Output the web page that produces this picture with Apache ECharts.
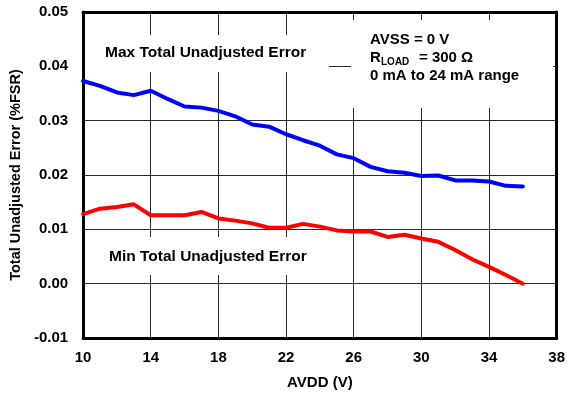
<!DOCTYPE html>
<html>
<head>
<meta charset="utf-8">
<title>Total Unadjusted Error vs AVDD</title>
<script src="https://cdn.jsdelivr.net/npm/echarts@6/dist/echarts.min.js"></script>
<style>
  html, body { margin: 0; padding: 0; background: #ffffff; }
  #chart { width: 568px; height: 396px; }
</style>
</head>
<body>
<div id="chart"></div>
<script>
// Supply voltage sweep (V)
const avdd = [10, 11, 12, 13, 14, 15, 16, 17, 18, 19, 20, 21, 22, 23, 24, 25, 26, 27, 28, 29, 30, 31, 32, 33, 34, 35, 36];

// Maximum total unadjusted error (%FSR)
const maxTue = [0.0373, 0.0364, 0.0352, 0.0347, 0.0355, 0.0340, 0.0326, 0.0324, 0.0318, 0.0308, 0.0293, 0.0289, 0.0275, 0.0264, 0.0254, 0.0238, 0.0231, 0.0215, 0.0207, 0.0204, 0.0198, 0.0199, 0.0190, 0.0190, 0.0188, 0.0180, 0.0179];

// Minimum total unadjusted error (%FSR)
const minTue = [0.0128, 0.0138, 0.0141, 0.0146, 0.0126, 0.0126, 0.0126, 0.0132, 0.0120, 0.0116, 0.0111, 0.0103, 0.0103, 0.0110, 0.0105, 0.0098, 0.0096, 0.0096, 0.0086, 0.0090, 0.0083, 0.0077, 0.0062, 0.0045, 0.0031, 0.0016, 0.0000];

// Axis ranges and tick spacing
const xRange = { min: 10, max: 38, step: 4 };
const yRange = { min: -0.01, max: 0.05, step: 0.01 };

const FONT = '"Liberation Sans", Arial, Helvetica, sans-serif';

const pairs = (xs, ys) => xs.map((x, i) => [x, ys[i]]);

const chart = echarts.init(document.getElementById('chart'), null, { renderer: 'canvas' });

const frameLine = { show: true, onZero: false, lineStyle: { color: '#000', width: 3 } };
const gridLine = { show: true, lineStyle: { color: '#2a2a2a', width: 1 } };

function label(text, x, y, size, align) {
  return {
    type: 'text', z: 11, x: x, y: y,
    style: {
      text: text, fill: '#000',
      font: 'bold ' + size + 'px ' + FONT,
      textAlign: align || 'left', textVerticalAlign: 'middle'
    }
  };
}
function blank(x, y, w, h) {
  return { type: 'rect', z: 10, shape: { x: x, y: y, width: w, height: h }, style: { fill: '#fff' } };
}

chart.setOption({
  animation: false,
  backgroundColor: '#ffffff',
  grid: { left: 80, right: 8, top: 12, bottom: 58, containLabel: false },
  xAxis: [
    {
      type: 'value', min: xRange.min, max: xRange.max, interval: xRange.step,
      position: 'bottom',
      name: 'AVDD (V)', nameLocation: 'middle', nameGap: 37,
      nameTextStyle: { color: '#000', fontFamily: FONT, fontWeight: 'bold', fontSize: 15 },
      axisLine: frameLine, axisTick: { show: false }, splitLine: gridLine,
      axisLabel: { color: '#000', fontFamily: FONT, fontWeight: 'bold', fontSize: 15, margin: 12 }
    },
    {
      type: 'value', min: xRange.min, max: xRange.max, interval: xRange.step,
      position: 'top', axisLine: frameLine, axisTick: { show: false },
      axisLabel: { show: false }, splitLine: { show: false }
    }
  ],
  yAxis: [
    {
      type: 'value', min: yRange.min, max: yRange.max, interval: yRange.step,
      position: 'left',
      name: 'Total Unadjusted Error (%FSR)', nameLocation: 'middle', nameGap: 57,
      nameTextStyle: { color: '#000', fontFamily: FONT, fontWeight: 'bold', fontSize: 14.5 },
      axisLine: frameLine, axisTick: { show: false }, splitLine: gridLine,
      axisLabel: {
        color: '#000', fontFamily: FONT, fontWeight: 'bold', fontSize: 15, margin: 15,
        formatter: v => v.toFixed(2)
      }
    },
    {
      type: 'value', min: yRange.min, max: yRange.max, interval: yRange.step,
      position: 'right', axisLine: frameLine, axisTick: { show: false },
      axisLabel: { show: false }, splitLine: { show: false }
    }
  ],
  series: [
    {
      name: 'Max Total Unadjusted Error', type: 'line', data: pairs(avdd, maxTue),
      showSymbol: false, smooth: false, z: 3,
      lineStyle: { color: '#0000ff', width: 4, join: 'round', cap: 'round' }
    },
    {
      name: 'Min Total Unadjusted Error', type: 'line', data: pairs(avdd, minTue),
      showSymbol: false, smooth: false, z: 3,
      lineStyle: { color: '#ff0000', width: 4, join: 'round', cap: 'round' }
    }
  ],
  graphic: [
    blank(85, 35, 244, 37),
    blank(351, 20, 202, 88),
    blank(100, 237, 215, 38),
    label('Max Total Unadjusted Error', 105, 53, 15.5),
    label('Min Total Unadjusted Error', 109, 257, 15.5),
    label('AVSS = 0 V', 370, 40, 15),
    label('R', 370, 58, 15),
    label('LOAD', 381, 62.5, 10),
    label('= 300 Ω', 419, 58, 15),
    label('0 mA to 24 mA range', 370, 76, 15)
  ]
});
</script>
</body>
</html>
